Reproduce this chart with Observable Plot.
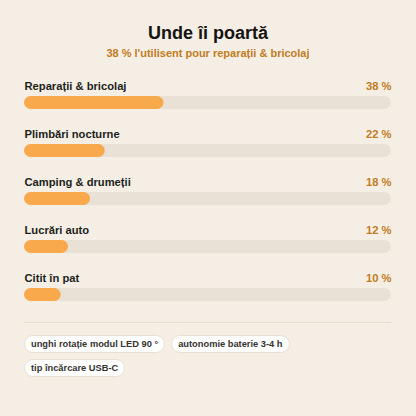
<!DOCTYPE html>
<html>
<head>
<meta charset="utf-8">
<script src="https://cdn.jsdelivr.net/npm/d3@7"></script>
<script src="https://cdn.jsdelivr.net/npm/@observablehq/plot@0.6"></script>
<style>
  html, body { margin: 0; padding: 0; background: #f5eee4; }
  body { width: 416px; height: 416px; overflow: hidden; font-family: "Liberation Sans", Arial, sans-serif; }
  .title { margin-top: 22px; height: 22px; line-height: 22px; text-align: center; font-size: 18px; font-weight: bold; color: #161412; }
  .subtitle { margin-top: 2px; height: 14px; line-height: 14px; text-align: center; font-size: 11px; font-weight: bold; color: #c27c22; }
  #chart { margin-top: 10px; height: 240px; }
  #chart svg { display: block; }
  .divider { margin: 12px 25px 0 24px; border-top: 1px solid #e7ded1; }
  .chips { margin: 12px 24px 0 24px; display: flex; flex-wrap: wrap; gap: 6px; }
  .chip { background: #fff; border: 1px solid #e9e0d3; border-radius: 9px; padding: 0 6px; height: 16px; line-height: 16px; font-size: 9.3px; font-weight: bold; color: #353230; white-space: nowrap; }
</style>
</head>
<body>
<div class="title">Unde îi poartă</div>
<div class="subtitle">38 % l'utilisent pour reparații &amp; bricolaj</div>
<div id="chart"></div>
<div class="divider"></div>
<div class="chips" id="chips"></div>
<script>
const categories = ["Reparații & bricolaj", "Plimbări nocturne", "Camping & drumeții", "Lucrări auto", "Citit în pat"];
const values = [38, 22, 18, 12, 10];
const chipLabels = ["unghi rotație modul LED 90 °", "autonomie baterie 3-4 h", "tip încărcare USB-C"];

const data = categories.map((c, i) => ({label: c, value: values[i]}));

const chart = Plot.plot({
  width: 416,
  height: 240,
  marginLeft: 24,
  marginRight: 25,
  marginTop: 0,
  marginBottom: 0,
  style: {fontFamily: "'Liberation Sans', Arial, sans-serif", background: "transparent"},
  x: {domain: [0, 100], axis: null},
  y: {domain: categories, axis: null, padding: 0},
  marks: [
    Plot.barX(data, {x1: () => 0, x2: () => 100, y: "label", fill: "#e9e1d5", insetTop: 26, insetBottom: 9, rx: 6.5}),
    Plot.barX(data, {x1: () => 0, x2: "value", y: "label", fill: "#f7a94c", insetTop: 26, insetBottom: 9, rx: 6.5}),
    Plot.text(data, {x: () => 0, y: "label", text: "label", textAnchor: "start", dy: -8, fontSize: 11.2, fontWeight: "bold", fill: "#211f1c"}),
    Plot.text(data, {x: () => 100, y: "label", text: d => `${d.value} %`, textAnchor: "end", dy: -8, fontSize: 11.2, fontWeight: "bold", fill: "#c27c22"})
  ]
});
document.getElementById("chart").append(chart);

const chips = document.getElementById("chips");
chipLabels.forEach(t => {
  const s = document.createElement("span");
  s.className = "chip";
  s.textContent = t;
  chips.append(s);
});
</script>
</body>
</html>
